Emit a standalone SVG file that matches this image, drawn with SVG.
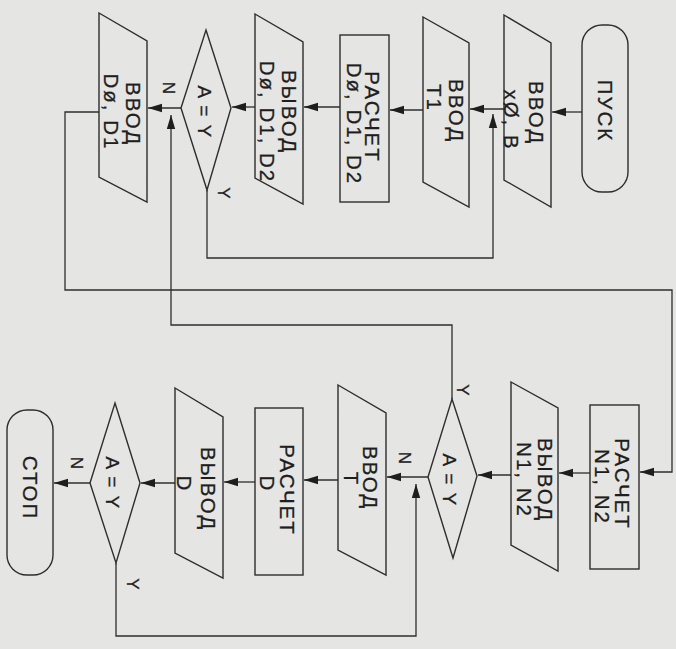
<svg xmlns="http://www.w3.org/2000/svg" width="676" height="649" viewBox="0 0 676 649">
<defs>
<style>
.bg{fill:#e5e5e3}
.sh{fill:none;stroke:#2e2e2e;stroke-width:1.4}
.cn{fill:none;stroke:#2e2e2e;stroke-width:1.3}
.t{font-family:"Liberation Sans",Arial,sans-serif;font-size:20.5px;letter-spacing:2px;fill:#1e1e1e;stroke:#1e1e1e;stroke-width:0.3;text-anchor:middle}
.d{font-family:"Liberation Sans",Arial,sans-serif;font-size:19px;letter-spacing:1.5px;fill:#1e1e1e;stroke:#1e1e1e;stroke-width:0.3;text-anchor:middle}
.l{font-family:"Liberation Sans",Arial,sans-serif;font-size:17px;fill:#1e1e1e;stroke:#1e1e1e;stroke-width:0.3;text-anchor:middle}
</style>
<marker id="ah" markerWidth="15" markerHeight="10" refX="14" refY="5" orient="auto" markerUnits="userSpaceOnUse">
<path d="M0,0.8 L14,5 L0,9.2 Z" fill="#1e1e1e"/>
</marker>
</defs>
<rect class="bg" x="0" y="0" width="676" height="649"/>

<g id="connectors">
<path class="cn" d="M582,112 H552" marker-end="url(#ah)"/>
<path class="cn" d="M504,109 H470" marker-end="url(#ah)"/>
<path class="cn" d="M207,190 V258 H493 V114" marker-end="url(#ah)"/>
<path class="cn" d="M423,110 H390" marker-end="url(#ah)"/>
<path class="cn" d="M340,107 H304" marker-end="url(#ah)"/>
<path class="cn" d="M255,107 H232" marker-end="url(#ah)"/>
<path class="cn" d="M181,108 H148" marker-end="url(#ah)"/>
<path class="cn" d="M452,399 V325 H171 V115" marker-end="url(#ah)"/>
<path class="cn" d="M99,112 H65 V290 H672 V472 H640" marker-end="url(#ah)"/>
<path class="cn" d="M590,473 H559" marker-end="url(#ah)"/>
<path class="cn" d="M511,475 H478" marker-end="url(#ah)"/>
<path class="cn" d="M428,477 H387" marker-end="url(#ah)"/>
<path class="cn" d="M116,563 V636 H416 V484" marker-end="url(#ah)"/>
<path class="cn" d="M338,480 H304" marker-end="url(#ah)"/>
<path class="cn" d="M255,482 H224" marker-end="url(#ah)"/>
<path class="cn" d="M175,483 H141" marker-end="url(#ah)"/>
<path class="cn" d="M90,483 H54" marker-end="url(#ah)"/>
</g>

<g id="n-start">
<rect class="sh" x="582" y="25" width="46" height="167" rx="20"/>
<text class="t" transform="translate(605,111) rotate(90)" y="7">ПУСК</text>
</g>

<g id="n-input-xb">
<polygon class="sh" points="504,15 551,43 551,207 504,180"/>
<text class="t" transform="translate(536,113) rotate(90)" y="7">ВВОД</text>
<text class="t" transform="translate(511,120) rotate(90)" y="7">xØ, B</text>
</g>

<g id="n-input-t1">
<polygon class="sh" points="423,17 469,43 469,207 423,182"/>
<text class="t" transform="translate(456,111) rotate(90)" y="7">ВВОД</text>
<text class="t" transform="translate(434,98) rotate(90)" y="7">T1</text>
</g>

<g id="n-calc-d">
<rect class="sh" x="340" y="35" width="49" height="167"/>
<text class="t" transform="translate(372,117) rotate(90)" y="7">РАСЧЕТ</text>
<text class="t" transform="translate(354,124) rotate(90)" y="7">Dø, D1, D2</text>
</g>

<g id="n-output-d">
<polygon class="sh" points="255,14 303,42 303,204 255,178"/>
<text class="t" transform="translate(289,112) rotate(90)" y="7">ВЫВОД</text>
<text class="t" transform="translate(267,122) rotate(90)" y="7">Dø, D1, D2</text>
</g>

<g id="n-decision-1">
<polygon class="sh" points="206,30 231,108 207,190 181,108"/>
<text class="d" transform="translate(205,112) rotate(90)" y="7">A = Y</text>
<text class="l" transform="translate(169,88) rotate(90)" y="6">N</text>
<text class="l" transform="translate(224,193) rotate(90)" y="6">Y</text>
</g>

<g id="n-input-d">
<polygon class="sh" points="99,13 147,41 147,202 99,177"/>
<text class="t" transform="translate(133,114) rotate(90)" y="7">ВВОД</text>
<text class="t" transform="translate(111,112) rotate(90)" y="7">Dø, D1</text>
</g>

<g id="n-calc-n">
<rect class="sh" x="590" y="405" width="49" height="164"/>
<text class="t" transform="translate(622,484) rotate(90)" y="7">РАСЧЕТ</text>
<text class="t" transform="translate(602,487) rotate(90)" y="7">N1, N2</text>
</g>

<g id="n-output-n">
<polygon class="sh" points="511,382 558,408 558,571 511,545"/>
<text class="t" transform="translate(545,480) rotate(90)" y="7">ВЫВОД</text>
<text class="t" transform="translate(524,480) rotate(90)" y="7">N1, N2</text>
</g>

<g id="n-decision-2">
<polygon class="sh" points="452,399 477,476 453,558 428,477"/>
<text class="d" transform="translate(450,480) rotate(90)" y="7">A = Y</text>
<text class="l" transform="translate(405,458) rotate(90)" y="6">N</text>
<text class="l" transform="translate(463,390) rotate(90)" y="6">Y</text>
</g>

<g id="n-input-t">
<polygon class="sh" points="338,385 386,413 386,575 338,550"/>
<text class="t" transform="translate(370,478) rotate(90)" y="7">ВВОД</text>
<text class="t" transform="translate(351,479) rotate(90)" y="7">T</text>
</g>

<g id="n-calc-dd">
<rect class="sh" x="255" y="408" width="48" height="167"/>
<text class="t" transform="translate(287,490) rotate(90)" y="7">РАСЧЕТ</text>
<text class="t" transform="translate(267,484) rotate(90)" y="7">D</text>
</g>

<g id="n-output-dd">
<polygon class="sh" points="175,388 223,417 223,578 175,553"/>
<text class="t" transform="translate(208,489) rotate(90)" y="7">ВЫВОД</text>
<text class="t" transform="translate(184,484) rotate(90)" y="7">D</text>
</g>

<g id="n-decision-3">
<polygon class="sh" points="115,403 140,483 116,563 90,483"/>
<text class="d" transform="translate(113,483) rotate(90)" y="7">A = Y</text>
<text class="l" transform="translate(77,463) rotate(90)" y="6">N</text>
<text class="l" transform="translate(133,584) rotate(90)" y="6">Y</text>
</g>

<g id="n-stop">
<rect class="sh" x="7" y="410" width="46" height="165" rx="20"/>
<text class="t" transform="translate(30,488) rotate(90)" y="7">СТОП</text>
</g>
</svg>
